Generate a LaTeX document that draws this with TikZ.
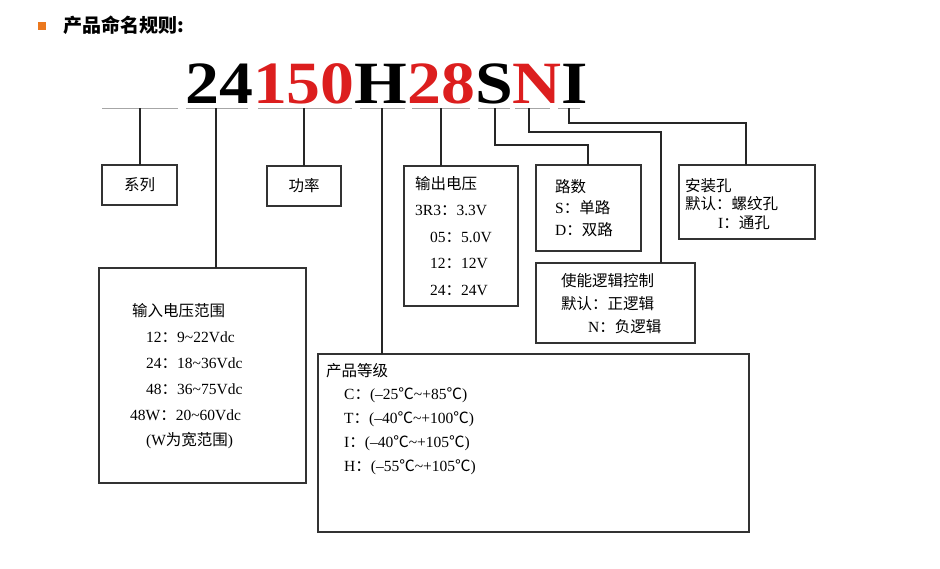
\documentclass[tikz,border=0pt]{standalone}
\usepackage{fontspec}
\setmainfont{Liberation Serif}
\newfontfamily\cjk{Noto Sans CJK SC}
\newcommand{\zh}[1]{{\cjk\fontsize{15.5}{17}\selectfont #1}}
\definecolor{nred}{RGB}{220,30,30}
\definecolor{nor}{RGB}{235,120,30}
\begin{document}
\begin{tikzpicture}[x=1pt,y=-1pt,
  bx/.style={draw=black!80,line width=1.1pt},
  ln/.style={draw=black!85,line width=1.1pt},
  ul/.style={draw=black!35,line width=0.8pt},
  tx/.style={anchor=west,inner sep=0pt,font=\fontsize{15.5}{17}\selectfont}]
\useasboundingbox[fill=white] (0,0) rectangle (940,568);
\fill[nor] (38,22) rectangle (46,30);
\node[anchor=west,inner sep=0pt] (title) at (63,25) {\cjk\bfseries\fontsize{19}{21}\selectfont 产品命名规则:};
\node[anchor=base west,inner sep=0pt] (code) at (185,103) {\scalebox{1.13}[1.0]{\fontsize{60}{62}\selectfont\bfseries 24\textcolor{nred}{150}H\textcolor{nred}{28}S\textcolor{nred}{N}I}};
% underlines
\foreach \a/\b in {102/178,186/248,258/352,360/405,412/470,478/510,515/550,558/580}
  \draw[ul] (\a,108) -- (\b,108);
% boxes
\draw[bx] (102,165) rectangle (177,205) node[midway] (xl) {\zh{系列}};
\draw[bx] (267,166) rectangle (341,206) node[midway] (gl) {\zh{功率}};
\draw[bx] (404,166) rectangle (518,306);
\coordinate (out) at (404,166);
\draw[bx] (536,165) rectangle (641,251);
\coordinate (lu) at (536,165);
\draw[bx] (679,165) rectangle (815,239);
\coordinate (az) at (679,165);
\draw[bx] (536,263) rectangle (695,343);
\coordinate (sn) at (536,263);
\draw[bx] (99,268) rectangle (306,483);
\coordinate (in) at (99,268);
\draw[bx] (318,354) rectangle (749,532);
\coordinate (dj) at (318,354);
% connectors
\coordinate (c1) at (140,108); \coordinate (c2) at (216,108); \coordinate (c3) at (304,108);
\coordinate (c4) at (382,108); \coordinate (c5) at (441,108); \coordinate (c6) at (495,108);
\coordinate (c7) at (529,108); \coordinate (c8) at (569,108);
\draw[ln] (c1) -- (140,165);
\draw[ln] (c2) -- (216,268);
\draw[ln] (c3) -- (304,166);
\draw[ln] (c4) -- (382,354);
\draw[ln] (c5) -- (441,166);
\draw[ln] (c6) -- (495,145) -- (588,145) -- (588,165);
\draw[ln] (c7) -- (529,132) -- (661,132) -- (661,263);
\draw[ln] (c8) -- (569,123) -- (746,123) -- (746,165);
% output voltage
\node[tx] (o1) at (415,184) {\zh{输出电压}};
\node[tx] (o2) at (415,210) {3R3\zh{：}3.3V};
\node[tx] (o3) at (430,237) {05\zh{：}5.0V};
\node[tx] (o4) at (430,263) {12\zh{：}12V};
\node[tx] (o5) at (430,290) {24\zh{：}24V};
% lu
\node[tx] (l1) at (555,187) {\zh{路数}};
\node[tx] (l2) at (555,208) {S\zh{：单路}};
\node[tx] (l3) at (555,230) {D\zh{：双路}};
% az
\node[tx] (a1) at (685,186) {\zh{安装孔}};
\node[tx] (a2) at (685,204) {\zh{默认：螺纹孔}};
\node[tx] (a3) at (718,223) {I\zh{：通孔}};
% sn
\node[tx] (s1) at (561,281) {\zh{使能逻辑控制}};
\node[tx] (s2) at (561,304) {\zh{默认：正逻辑}};
\node[tx] (s3) at (588,327) {N\zh{：负逻辑}};
% input
\node[tx] (i1) at (132,311) {\zh{输入电压范围}};
\node[tx] (i2) at (146,337) {12\zh{：}9\textasciitilde22Vdc};
\node[tx] (i3) at (146,363) {24\zh{：}18\textasciitilde36Vdc};
\node[tx] (i4) at (146,389) {48\zh{：}36\textasciitilde75Vdc};
\node[tx] (i5) at (130,415) {48W\zh{：}20\textasciitilde60Vdc};
\node[tx] (i6) at (146,441) {(W\zh{为宽范围})};
% grade
\node[tx] (d1) at (326,371) {\zh{产品等级}};
\node[tx] (d2) at (344,395) {C\zh{：}(\textendash25\zh{℃}\textasciitilde+85\zh{℃})};
\node[tx] (d3) at (344,419) {T\zh{：}(\textendash40\zh{℃}\textasciitilde+100\zh{℃})};
\node[tx] (d4) at (344,443) {I\zh{：}(\textendash40\zh{℃}\textasciitilde+105\zh{℃})};
\node[tx] (d5) at (344,467) {H\zh{：}(\textendash55\zh{℃}\textasciitilde+105\zh{℃})};
\end{tikzpicture}
\end{document}
